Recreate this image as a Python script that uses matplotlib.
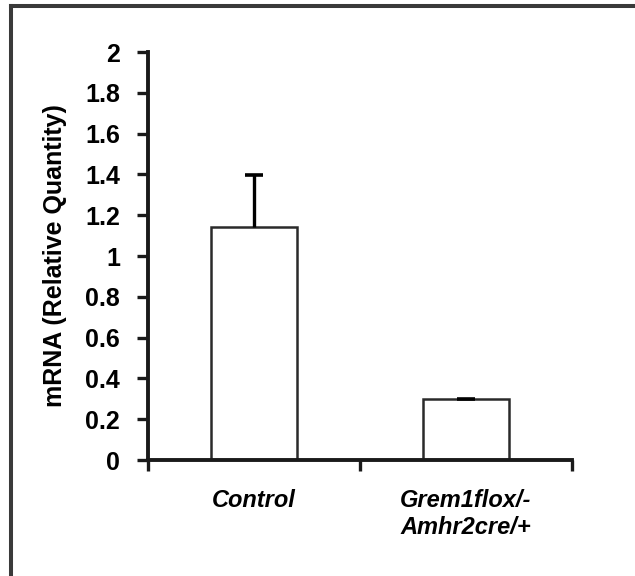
import matplotlib
matplotlib.use("Agg")
import matplotlib.pyplot as plt
from matplotlib.lines import Line2D

categories = ["Control", "Grem1flox/-\nAmhr2cre/+"]
values = [1.14, 0.297]
errors = [0.255, 0.004]
yticks = [0, 0.2, 0.4, 0.6, 0.8, 1, 1.2, 1.4, 1.6, 1.8, 2]
ytick_labels = ["0", "0.2", "0.4", "0.6", "0.8", "1", "1.2", "1.4", "1.6", "1.8", "2"]

plt.rcParams['font.family'] = ['Liberation Sans', 'DejaVu Sans']

W, H = 635, 576
fig = plt.figure(figsize=(W / 100, H / 100), dpi=100)
fig.patch.set_facecolor("white")

left, right, bottom, top = 148, 572, 460, 52
ax = fig.add_axes([left / W, 1 - bottom / H, (right - left) / W, (bottom - top) / H])

x = list(range(len(categories)))
ax.bar(x, values, width=0.41, color="white", edgecolor="#2a2a2a", linewidth=1.8, zorder=2)
ax.errorbar(x, values, yerr=[[0, 0], errors], fmt="none", ecolor="black",
            elinewidth=2.4, capsize=0, zorder=3)
tops = [v + e for v, e in zip(values, errors)]
ax.plot(x, tops, linestyle="none", marker="_", markersize=13, markeredgewidth=2.6,
        color="black", zorder=3)

ax.set_xlim(-0.5, 1.5)
ax.set_ylim(0, 2)
ax.set_yticks(yticks)
ax.set_yticklabels(ytick_labels, fontsize=18, fontweight="bold")
ax.set_xticks([-0.5, 0.5, 1.5], minor=False)
ax.set_xticklabels([])
ax.set_xticks(x, minor=True)
ax.set_xticklabels(categories, minor=True, fontsize=17, fontweight="bold",
                   fontstyle="italic", linespacing=1.2)
ax.tick_params(axis="x", which="minor", length=0, pad=21)
ax.tick_params(axis="x", which="major", direction="out", length=8, width=2.4, color="#1a1a1a")
ax.tick_params(axis="y", direction="out", length=8, width=2.4, color="#1a1a1a", pad=12)

for s in ["top", "right"]:
    ax.spines[s].set_visible(False)
for s in ["left", "bottom"]:
    ax.spines[s].set_linewidth(2.8)
    ax.spines[s].set_color("#1a1a1a")

ax.set_ylabel("mRNA (Relative Quantity)", fontsize=18, fontweight="bold")
ax.yaxis.set_label_coords(-0.19, 0.5)

# outer frame (left and top edges)
fig.add_artist(Line2D([10.5 / W, 10.5 / W], [0, 1 - 5.5 / H], transform=fig.transFigure,
                      color="#3a3a3a", linewidth=2.9, solid_capstyle="projecting"))
fig.add_artist(Line2D([10.5 / W, 1], [1 - 5.5 / H, 1 - 5.5 / H], transform=fig.transFigure,
                      color="#3a3a3a", linewidth=2.9, solid_capstyle="projecting"))

fig.savefig("out.png", dpi=100)
